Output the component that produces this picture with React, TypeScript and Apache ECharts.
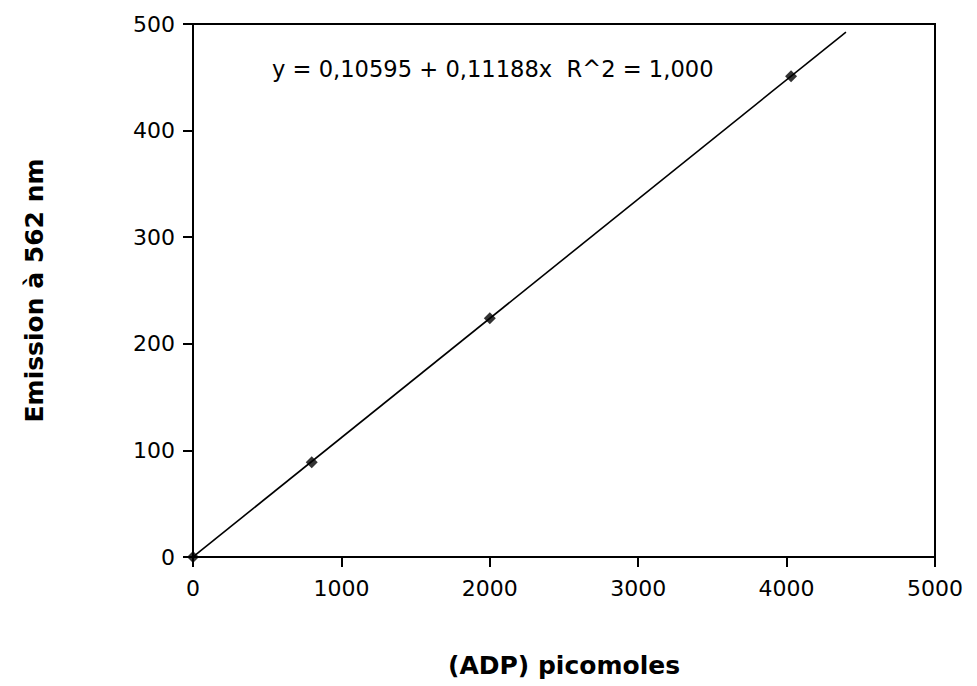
import React, { useEffect, useRef } from "react";
import * as echarts from "echarts";

const xTicks = [0, 1000, 2000, 3000, 4000, 5000];
const yTicks = [0, 100, 200, 300, 400, 500];
const adpPicomoles = [0, 800, 2000, 4030];
const emission = [0, 89, 224, 451];
const fitLineX = [0, 4400];
const fitLineY = [0.1, 492.4];
const equationText = "y = 0,10595 + 0,11188x  R^2 = 1,000";
const xTitle = "(ADP) picomoles";
const yTitle = "Emission à 562 nm";

export default function App() {
  const ref = useRef<HTMLDivElement>(null);
  useEffect(() => {
    if (!ref.current) return;
    const chart = echarts.init(ref.current, undefined, { renderer: "svg" });
    const font = "DejaVu Sans";
    chart.setOption({
      animation: false,
      backgroundColor: "#ffffff",
      grid: {
        left: 193,
        top: 24,
        right: 42,
        bottom: 129,
        show: true,
        borderColor: "#000",
        borderWidth: 2,
        backgroundColor: "transparent",
      },
      xAxis: {
        type: "value",
        min: xTicks[0],
        max: xTicks[xTicks.length - 1],
        interval: 1000,
        name: xTitle,
        nameLocation: "middle",
        nameGap: 96,
        nameTextStyle: { fontFamily: font, fontWeight: "bold", fontSize: 25, color: "#000" },
        axisLine: { lineStyle: { color: "#000", width: 2 } },
        axisTick: { show: true, length: 10, lineStyle: { color: "#000", width: 2 } },
        splitLine: { show: false },
        axisLabel: {
          fontFamily: font,
          fontSize: 22,
          color: "#000",
          margin: 20,
          formatter: (v: number) => String(v),
        },
      },
      yAxis: {
        type: "value",
        min: yTicks[0],
        max: yTicks[yTicks.length - 1],
        interval: 100,
        name: yTitle,
        nameLocation: "middle",
        nameGap: 146,
        nameRotate: 90,
        nameTextStyle: { fontFamily: font, fontWeight: "bold", fontSize: 25, color: "#000" },
        axisLine: { show: true, lineStyle: { color: "#000", width: 2 } },
        axisTick: { show: true, length: 10, lineStyle: { color: "#000", width: 2 } },
        splitLine: { show: false },
        axisLabel: {
          fontFamily: font,
          fontSize: 22,
          color: "#000",
          margin: 18,
          formatter: (v: number) => String(v),
        },
      },
      graphic: [
        {
          type: "text",
          left: 272,
          top: 57,
          style: { text: equationText, fontFamily: font, fontSize: 22.6, fill: "#000" },
        },
      ],
      series: [
        {
          type: "line",
          data: fitLineX.map((x, i) => [x, fitLineY[i]]),
          showSymbol: false,
          lineStyle: { color: "#000", width: 1.6 },
          z: 2,
        },
        {
          type: "scatter",
          data: adpPicomoles.map((x, i) => [x, emission[i]]),
          symbol: "diamond",
          symbolSize: 12,
          itemStyle: { color: "#000" },
          z: 3,
        },
      ],
    });
    return () => chart.dispose();
  }, []);
  return (
    <div
      ref={ref}
      style={{ position: "fixed", left: 0, top: 0, width: 977, height: 686, background: "#fff" }}
    />
  );
}
